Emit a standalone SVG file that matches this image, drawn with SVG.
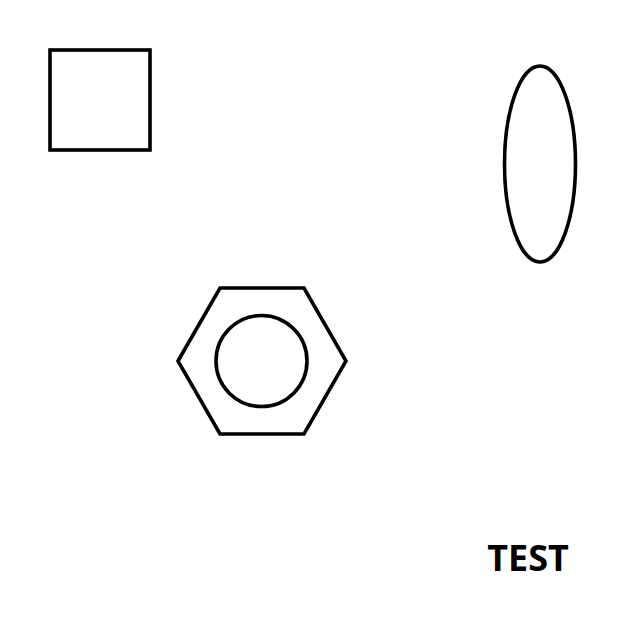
<svg xmlns="http://www.w3.org/2000/svg" width="640" height="640" viewBox="0 0 640 640">
<style>
.s{fill:none;stroke:#000;stroke-width:3.6}
.t{font-family:"Open Sans","Noto Sans",sans-serif;font-weight:bold;font-size:36px;fill:#000}
</style>
<rect width="640" height="640" fill="#fff"/>
<g id="square"><rect class="s" x="50" y="50" width="100" height="100"/></g>
<g id="ellipse"><ellipse class="s" cx="540" cy="164" rx="35.5" ry="98"/></g>
<g id="hexagon"><polygon class="s" points="178,361 220,288 304,288 346,361 304,434 220,434"/><circle class="s" cx="261.5" cy="361" r="45.5"/></g>
<g id="label"><text class="t" x="528" y="571" text-anchor="middle">TEST</text></g>
<g id="connectors"/>
</svg>
